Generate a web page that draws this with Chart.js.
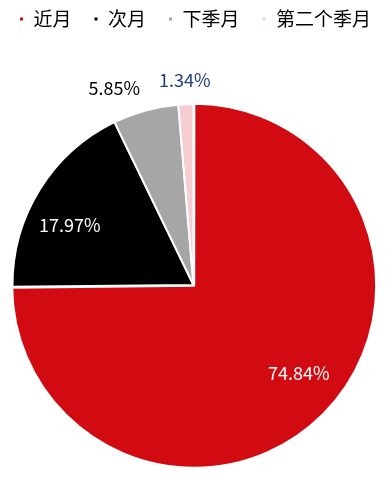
<!DOCTYPE html>
<html>
<head>
<meta charset="utf-8">
<script src="https://cdn.jsdelivr.net/npm/chart.js@4"></script>
<style>
  html, body { margin: 0; padding: 0; background: #fff; }
  #wrap { width: 387px; height: 477px; }
</style>
</head>
<body>
<div id="wrap"><canvas id="pieChart"></canvas></div>
<script>
const contractLabels = ["近月", "次月", "下季月", "第二个季月"];
const shareValues = [74.84, 17.97, 5.85, 1.34];
const sliceColors = ["#d20a11", "#000000", "#a6a6a6", "#f6cdd1"];

// where each percentage label sits: fraction of radius, angle nudge (deg), colour
const labelPlacement = [
  { factor: 0.76, shift: -4.7, color: "#ffffff" },
  { factor: 0.76, shift: -5.8, color: "#ffffff" },
  { factor: 1.17, shift: -6.6, color: "#000000" },
  { factor: 1.13, shift: 0, color: "#1f3d7d" }
];

const sliceLabels = {
  id: "sliceLabels",
  afterDatasetsDraw(chart) {
    const { ctx } = chart;
    const arcs = chart.getDatasetMeta(0).data;
    ctx.save();
    ctx.font = "18px 'Noto Sans CJK SC', 'Noto Sans', sans-serif";
    ctx.textAlign = "center";
    ctx.textBaseline = "middle";
    arcs.forEach((arc, i) => {
      const p = labelPlacement[i];
      const mid = (arc.startAngle + arc.endAngle) / 2 + p.shift * Math.PI / 180;
      const r = arc.outerRadius * p.factor;
      ctx.fillStyle = p.color;
      ctx.fillText(shareValues[i].toFixed(2) + "%", arc.x + Math.cos(mid) * r, arc.y + Math.sin(mid) * r);
    });
    ctx.restore();
  }
};

new Chart(document.getElementById("pieChart"), {
  type: "pie",
  data: {
    labels: contractLabels,
    datasets: [{
      data: shareValues,
      backgroundColor: sliceColors,
      borderColor: "#ffffff",
      borderWidth: 2,
      offset: [4, 0, 0, 0],
      radius: 181
    }]
  },
  options: {
    responsive: true,
    maintainAspectRatio: false,
    animation: false,
    layout: {
      padding: { top: -12.5, left: -6, right: -9, bottom: 0 }
    },
    plugins: {
      tooltip: { enabled: false },
      legend: {
        position: "top",
        labels: {
          boxWidth: 5,
          boxHeight: 5,
          padding: 22,
          color: "#000000",
          font: { size: 19, family: "'Noto Sans CJK SC', sans-serif" }
        }
      },
      // empty title used as a spacer between the legend and the pie
      title: {
        display: true,
        text: "",
        weight: 500,
        font: { size: 10 },
        padding: { top: 0, bottom: 42.5 }
      }
    }
  },
  plugins: [sliceLabels]
});
</script>
</body>
</html>
